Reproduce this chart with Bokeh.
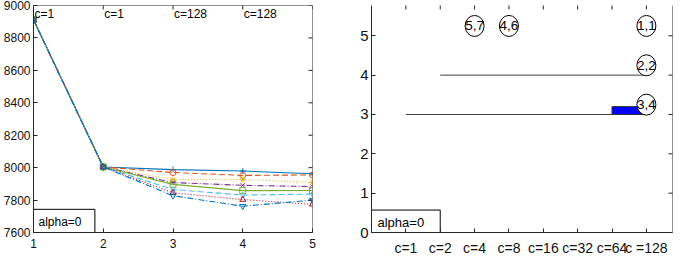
import math
from bokeh.plotting import figure
from bokeh.layouts import row
from bokeh.models import FixedTicker, Range1d, Span
from bokeh.core.properties import value
from bokeh.embed import file_html
from bokeh.resources import INLINE

# ---------------- Left chart data ----------------
steps = [1, 2, 3, 4, 5]
s1 = [8912, 8004, 7988, 7979, 7962]
s2 = [8912, 8004, 7970, 7952, 7955]
s3 = [8912, 8004, 7926, 7927, 7908]
s4 = [8912, 8004, 7908, 7891, 7883]
s5 = [8912, 8004, 7897, 7858, 7859]
s6 = [8912, 8004, 7865, 7831, 7837]
s7 = [8912, 8004, 7845, 7803, 7774]
s8 = [8912, 8004, 7827, 7762, 7800]
left_yticks = [7600, 7800, 8000, 8200, 8400, 8600, 8800, 9000]
top_label_pos = [1, 2, 3, 4]
top_labels = ["c=1", "c=1", "c=128", "c=128"]

# ---------------- Right chart data ----------------
cat_pos = [1, 2, 3, 4, 5, 6, 7, 8]
cat_labels = ["c=1", "c=2", "c=4", "c=8", "c=16", "c=32", "c=64", "c =128"]
right_yticks = [0, 1, 2, 3, 4, 5]
seg_y = [4, 3]
seg_start = [2, 1]
seg_end = [8, 8]
bar_left = [7]
bar_right = [8]
bar_bottom = [3]
bar_top = [3.2]
node_x = [3, 4, 8, 8, 8]
node_y = [5.25, 5.25, 5.25, 4.25, 3.25]
node_text = ["5,7", "4,6", "1,1", "2,2", "3,4"]

FONT = "Liberation Sans"
AX = "#262626"

series = [
    (s1, "#0072BD", "solid", "cross"),
    (s2, "#D95319", "6 3", "circle"),
    (s3, "#EDB120", "1 2", "asterisk"),
    (s4, "#7E2F8E", "6 2 1 2", "x"),
    (s5, "#77AC30", "solid", "square"),
    (s6, "#4DBEEE", "6 3", "diamond"),
    (s7, "#A2142F", "1 2", "triangle"),
    (s8, "#0072BD", "6 2 1 2", "inverted_triangle"),
]


def style_axis(ax, ticks, size="12px", standoff=3, overrides=None):
    ax.ticker = FixedTicker(ticks=ticks)
    ax.major_tick_in = 4
    ax.major_tick_out = 0
    ax.minor_tick_line_color = None
    ax.axis_line_color = AX
    ax.major_tick_line_color = AX
    ax.major_label_text_font = FONT
    ax.major_label_text_color = "#111111"
    ax.major_label_text_font_size = size
    ax.major_label_standoff = standoff
    if overrides:
        ax.major_label_overrides = overrides


def base_fig(**kw):
    p = figure(output_backend="svg", toolbar_location=None, **kw)
    p.outline_line_color = None
    p.grid.grid_line_color = None
    p.background_fill_color = "white"
    p.border_fill_color = "white"
    return p


# ---------------- Left figure ----------------
p1 = base_fig(width=337, height=258, x_range=Range1d(1, 5), y_range=Range1d(7600, 9000),
              min_border_left=30, min_border_right=25, min_border_top=5, min_border_bottom=26)

for vals, col, dash, mk in series:
    p1.line(steps, vals, line_color=col, line_dash=dash, line_width=1.1)
    p1.scatter(steps, vals, marker=mk, size=6, line_color=col, fill_color=None, line_width=1)

p1.text(x=top_label_pos, y=[9000] * len(top_label_pos), text=top_labels,
        text_font=value(FONT), text_font_size=value("12px"), text_color="black",
        text_baseline="top", text_align="left", x_offset=1, y_offset=1)

p1.quad(left=[1], right=[1.88], bottom=[7600], top=[7743], fill_color="white",
        line_color="black", line_width=1)
p1.text(x=[1], y=[7600], text=["alpha=0"], text_font=value(FONT),
        text_font_size=value("12px"), text_color="black", text_baseline="middle",
        x_offset=5, y_offset=-11)

# box edges (top, right) and inward ticks on them
p1.add_layout(Span(location=9000, dimension="width", line_color=AX, line_width=1))
p1.add_layout(Span(location=5, dimension="height", line_color=AX, line_width=1))
p1.scatter(x=steps, y=[9000] * len(steps), marker="dash", angle=math.pi / 2, size=8,
           line_color=AX, line_width=1)
p1.scatter(x=[5] * len(left_yticks), y=left_yticks, marker="dash", size=8,
           line_color=AX, line_width=1)

style_axis(p1.below[0], steps, standoff=6)
style_axis(p1.left[0], left_yticks, standoff=3)

# ---------------- Right figure ----------------
XMAX = 8.76
p2 = base_fig(width=337, height=258, x_range=Range1d(0, XMAX), y_range=Range1d(0, 5.77),
              min_border_left=34, min_border_right=2, min_border_top=0, min_border_bottom=23)

p2.segment(x0=seg_start, y0=seg_y, x1=seg_end, y1=seg_y, line_color="#404040", line_width=1)
p2.quad(left=bar_left, right=bar_right, bottom=bar_bottom, top=bar_top,
        fill_color="#0000FF", line_color="#333333", line_width=1)
p2.ellipse(x=node_x, y=node_y, width=19, height=21, width_units="screen",
           height_units="screen", fill_color="white", line_color="black", line_width=1)
p2.text(x=node_x, y=node_y, text=node_text, text_font=value(FONT),
        text_font_size=value("13.5px"), text_color="black", text_align="center",
        text_baseline="middle")

p2.quad(left=[0], right=[2], bottom=[0], top=[0.57], fill_color="white",
        line_color="black", line_width=1)
p2.text(x=[0], y=[0], text=["alpha=0"], text_font=value(FONT),
        text_font_size=value("13px"), text_color="black", text_baseline="middle",
        x_offset=6, y_offset=-10)

p2.add_layout(Span(location=XMAX, dimension="height", line_color=AX, line_width=1))
p2.scatter(x=cat_pos, y=[5.77] * len(cat_pos), marker="dash", angle=math.pi / 2, size=8,
           line_color=AX, line_width=1)
p2.scatter(x=[XMAX] * len(right_yticks), y=right_yticks, marker="dash", size=8,
           line_color=AX, line_width=1)

style_axis(p2.below[0], cat_pos, size="14px", standoff=7,
           overrides={pos: lab for pos, lab in zip(cat_pos, cat_labels)})
style_axis(p2.left[0], right_yticks, size="15px", standoff=3)

layout = row(p1, p2)
open("out.html", "w").write(file_html(layout, INLINE))
